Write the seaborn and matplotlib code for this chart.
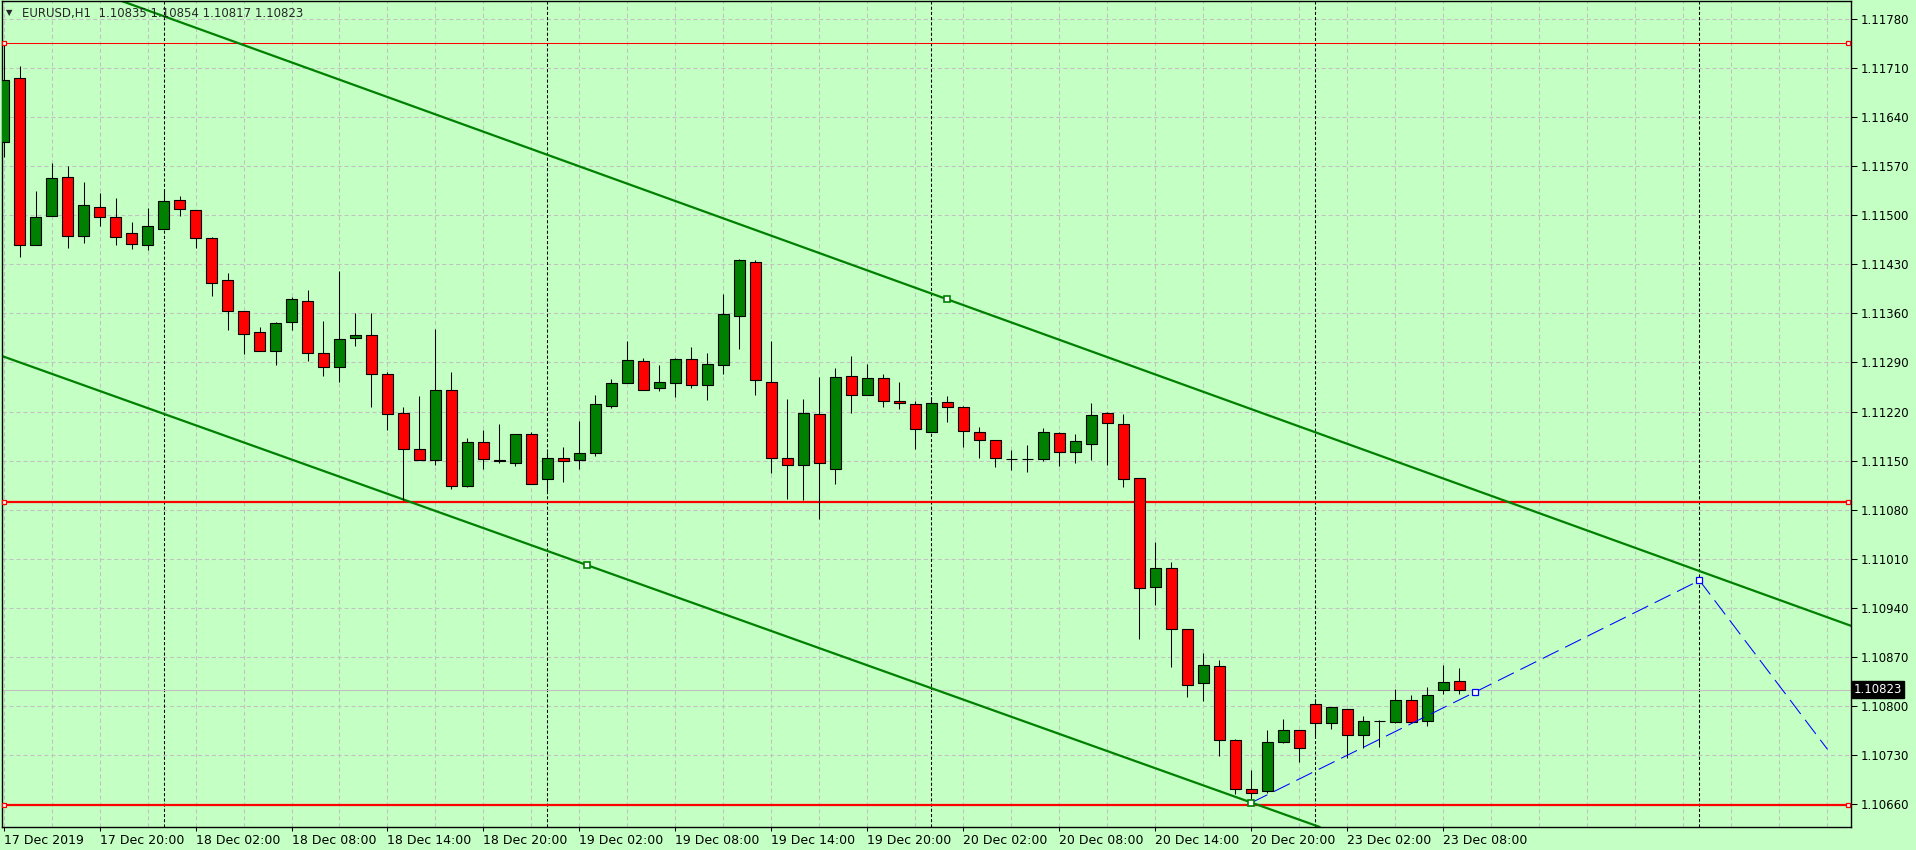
import numpy as np
import pandas as pd
import matplotlib
matplotlib.use('Agg')
import matplotlib.pyplot as plt
import matplotlib.transforms as mtransforms
import seaborn as sns

symbol = 'EURUSD,H1'

# hourly OHLC, 17 Dec 14:00 .. 23 Dec 09:00
opens = [1.11605, 1.11696, 1.11457, 1.11499, 1.11555, 1.11471, 1.11512, 1.11497, 1.11474, 1.11458,
         1.11481, 1.11522, 1.11508, 1.11468, 1.11407, 1.11363, 1.11333, 1.11307, 1.11347, 1.11378,
         1.11303, 1.11284, 1.11325, 1.11329, 1.11274, 1.11218, 1.11167, 1.11151, 1.11251, 1.11114,
         1.11176, 1.11151, 1.11147, 1.11188, 1.11124, 1.11154, 1.11151, 1.11161, 1.11228, 1.11260,
         1.11292, 1.11253, 1.11260, 1.11295, 1.11258, 1.11286, 1.11356, 1.11434, 1.11262, 1.11154,
         1.11144, 1.11216, 1.11138, 1.11271, 1.11244, 1.11268, 1.11235, 1.11231, 1.11191, 1.11234,
         1.11226, 1.11191, 1.11179, 1.11152, 1.11152, 1.11152, 1.11189, 1.11162, 1.11173, 1.11218,
         1.11202, 1.11125, 1.10970, 1.10997, 1.10910, 1.10832, 1.10857, 1.10752, 1.10681, 1.10678,
         1.10749, 1.10766, 1.10802, 1.10776, 1.10795, 1.10758, 1.10778, 1.10777, 1.10809, 1.10779,
         1.10822, 1.10835]
highs = [1.11745, 1.11713, 1.11534, 1.11574, 1.11570, 1.11548, 1.11532, 1.11525, 1.11491, 1.11510,
         1.11538, 1.11527, 1.11508, 1.11469, 1.11417, 1.11363, 1.11340, 1.11347, 1.11384, 1.11394,
         1.11349, 1.11421, 1.11361, 1.11360, 1.11276, 1.11226, 1.11242, 1.11338, 1.11277, 1.11182,
         1.11193, 1.11202, 1.11188, 1.11191, 1.11162, 1.11170, 1.11206, 1.11243, 1.11267, 1.11320,
         1.11296, 1.11286, 1.11297, 1.11312, 1.11304, 1.11388, 1.11437, 1.11436, 1.11321, 1.11238,
         1.11238, 1.11269, 1.11282, 1.11299, 1.11288, 1.11274, 1.11262, 1.11235, 1.11240, 1.11242,
         1.11228, 1.11198, 1.11179, 1.11165, 1.11172, 1.11197, 1.11191, 1.11188, 1.11232, 1.11219,
         1.11217, 1.11125, 1.11034, 1.11006, 1.10910, 1.10876, 1.10866, 1.10753, 1.10708, 1.10765,
         1.10782, 1.10766, 1.10810, 1.10799, 1.10796, 1.10785, 1.10780, 1.10824, 1.10815, 1.10827,
         1.10859, 1.10854]
lows = [1.11583, 1.11440, 1.11457, 1.11499, 1.11453, 1.11460, 1.11485, 1.11458, 1.11452, 1.11450,
        1.11481, 1.11499, 1.11453, 1.11385, 1.11337, 1.11302, 1.11307, 1.11287, 1.11337, 1.11292,
        1.11271, 1.11262, 1.11313, 1.11226, 1.11193, 1.11094, 1.11151, 1.11143, 1.11110, 1.11112,
        1.11138, 1.11146, 1.11142, 1.11117, 1.11107, 1.11120, 1.11138, 1.11157, 1.11225, 1.11260,
        1.11251, 1.11249, 1.11240, 1.11253, 1.11237, 1.11274, 1.11309, 1.11244, 1.11132, 1.11095,
        1.11094, 1.11066, 1.11116, 1.11218, 1.11244, 1.11227, 1.11223, 1.11166, 1.11191, 1.11205,
        1.11169, 1.11153, 1.11141, 1.11137, 1.11133, 1.11149, 1.11142, 1.11146, 1.11151, 1.11144,
        1.11113, 1.10895, 1.10944, 1.10856, 1.10813, 1.10807, 1.10728, 1.10674, 1.10662, 1.10676,
        1.10747, 1.10720, 1.10757, 1.10767, 1.10725, 1.10740, 1.10741, 1.10775, 1.10777, 1.10771,
        1.10817, 1.10817]
closes = [1.11693, 1.11457, 1.11498, 1.11553, 1.11471, 1.11514, 1.11498, 1.11469, 1.11459, 1.11484,
          1.11521, 1.11509, 1.11468, 1.11404, 1.11363, 1.11331, 1.11307, 1.11346, 1.11380, 1.11303,
          1.11283, 1.11324, 1.11329, 1.11274, 1.11217, 1.11167, 1.11151, 1.11251, 1.11114, 1.11176,
          1.11152, 1.11149, 1.11188, 1.11117, 1.11154, 1.11150, 1.11161, 1.11231, 1.11260, 1.11294,
          1.11251, 1.11262, 1.11295, 1.11258, 1.11288, 1.11359, 1.11436, 1.11265, 1.11154, 1.11144,
          1.11218, 1.11147, 1.11269, 1.11244, 1.11268, 1.11235, 1.11232, 1.11195, 1.11232, 1.11226,
          1.11192, 1.11179, 1.11153, 1.11152, 1.11152, 1.11191, 1.11162, 1.11178, 1.11215, 1.11203,
          1.11124, 1.10968, 1.10997, 1.10909, 1.10830, 1.10859, 1.10752, 1.10681, 1.10676, 1.10748,
          1.10766, 1.10740, 1.10776, 1.10799, 1.10758, 1.10779, 1.10778, 1.10809, 1.10777, 1.10816,
          1.10834, 1.10823]

time_labels = ['17 Dec 2019', '17 Dec 20:00', '18 Dec 02:00', '18 Dec 08:00', '18 Dec 14:00',
               '18 Dec 20:00', '19 Dec 02:00', '19 Dec 08:00', '19 Dec 14:00', '19 Dec 20:00',
               '20 Dec 02:00', '20 Dec 08:00', '20 Dec 14:00', '20 Dec 20:00', '23 Dec 02:00',
               '23 Dec 08:00']
label_bars = [0, 6, 12, 18, 24, 30, 36, 42, 48, 54, 60, 66, 72, 78, 84, 90]
day_breaks = [10, 34, 58, 82, 106]
price_ticks = [1.1066, 1.1073, 1.1080, 1.1087, 1.1094, 1.1101, 1.1108, 1.1115, 1.1122,
               1.1129, 1.1136, 1.1143, 1.1150, 1.1157, 1.1164, 1.1171, 1.1178]

# objects drawn on the chart
levels = [1.11746, 1.11091, 1.10658]
level_widths = [0.75, 1.6, 1.6]
upper_bars = [59, 115.5]
upper_prices = [1.11380, 1.10914]
lower_bars = [36.45, 78]
lower_prices = [1.11001, 1.10662]
proj_bars = [78, 92, 106, 114]
proj_prices = [1.10662, 1.10820, 1.10979, 1.10738]

df = pd.DataFrame({'open': opens, 'high': highs, 'low': lows, 'close': closes})
df['bar'] = np.arange(len(df))
df['up'] = df['close'] >= df['open']

bg = '#C4FFC4'
sns.set_style('ticks', {'axes.facecolor': bg, 'figure.facecolor': bg,
                        'axes.edgecolor': 'black'})
plt.rcParams['font.family'] = ['DejaVu Sans']

W, H = 1916, 850
fig = plt.figure(figsize=(W / 100, H / 100), dpi=100)
ax = fig.add_axes([2 / W, 23 / H, 1849 / W, 826 / H])
ax.set_xlim(-0.094, 115.47)
ax.set_ylim(1.106272, 1.118057)

# grid
ax.set_yticks(price_ticks)
ax.yaxis.grid(True, color='#C2C2C2', ls=(0, (4, 2.7)), lw=0.75, zorder=0)
for b in np.arange(0, 116, 3):
    ax.axvline(b, color='#C2C2C2', ls=(0, (4, 2.7)), lw=0.75, zorder=0)
for b in day_breaks:
    ax.axvline(b, color='black', ls=(0, (3, 2)), lw=0.75, zorder=1)

# bid line
ax.axhline(closes[-1], color='#C0C0C0', lw=0.75, zorder=1)

# horizontal levels
xl = ax.get_xlim()
for lv, lw in zip(levels, level_widths):
    ax.axhline(lv, color='#FF0000', lw=lw, zorder=2)
    ax.plot([xl[0] + 0.15, xl[1] - 0.2], [lv, lv], ls='none', marker='s', ms=3.5,
            mfc='white', mec='#FF0000', mew=0.9, zorder=6, clip_on=False)

# channel
ax.axline((upper_bars[0], upper_prices[0]), (upper_bars[1], upper_prices[1]),
          color='#008000', lw=1.6, zorder=2)
ax.axline((lower_bars[0], lower_prices[0]), (lower_bars[1], lower_prices[1]),
          color='#008000', lw=1.6, zorder=2)

# candles
colors = np.where(df['up'], '#008000', '#FF0000')
ax.vlines(df['bar'], df['low'], df['high'], color='black', lw=0.75, zorder=3)
ax.bar(df['bar'], (df['close'] - df['open']).abs(), bottom=df[['open', 'close']].min(axis=1),
       width=0.66, color=colors, edgecolor='black', linewidth=0.8, zorder=4)

# projection path
sns.lineplot(x=proj_bars, y=proj_prices, ax=ax, color='#0000FF', lw=0.75,
             linestyle=(0, (17, 7)), zorder=5)
ax.plot(proj_bars[1:3], proj_prices[1:3], ls='none', marker='s', ms=4.5, mfc='white',
        mec='#0000FF', mew=0.9, zorder=6)
ax.plot([upper_bars[0], lower_bars[0], lower_bars[1]],
        [upper_prices[0], lower_prices[0], lower_prices[1]],
        ls='none', marker='s', ms=4.5, mfc='white', mec='#008000', mew=1.2, zorder=6)

# axes
ax.yaxis.tick_right()
ax.set_yticklabels([f'{p:.5f}' for p in price_ticks], fontsize=8.5)
ax.tick_params(axis='y', length=4, width=0.75, pad=3, colors='black')
ax.set_xticks(label_bars)
ax.set_xticklabels(time_labels, fontsize=9, family=['Liberation Sans Narrow', 'DejaVu Sans'])
for lbl in ax.get_xticklabels():
    lbl.set_horizontalalignment('left')
ax.tick_params(axis='x', length=3, width=0.75, pad=2, colors='black')
ax.set_xlabel('')
ax.set_ylabel('')
for s in ax.spines.values():
    s.set_linewidth(1.0)
    s.set_color('black')

# current price box
trans = mtransforms.blended_transform_factory(ax.transAxes, ax.transData)
ax.text(1.0015, closes[-1], f'{closes[-1]:.5f}', transform=trans, ha='left', va='center',
        fontsize=8.5, color='white', zorder=10,
        bbox=dict(boxstyle='square,pad=0.15', fc='black', ec='black'))

# header
fig.text(6 / W, 1 - 13 / H, '\u25bc', fontsize=6, va='center', ha='left')
fig.text(22 / W, 1 - 13 / H,
         f'{symbol}  {opens[-1]:.5f} {highs[-1]:.5f} {lows[-1]:.5f} {closes[-1]:.5f}',
         fontsize=8.5, va='center', ha='left')

fig.savefig('out.png', dpi=100, facecolor=bg)
